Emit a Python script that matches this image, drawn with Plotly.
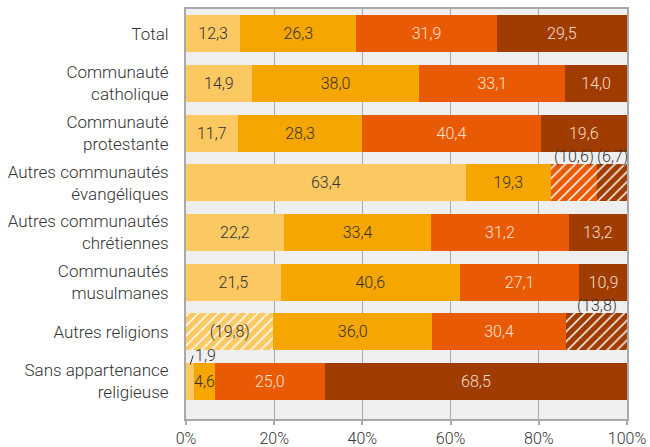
import plotly.graph_objects as go

# Groupes (de haut en bas)
categories = [
    "Total",
    "Communauté<br>catholique",
    "Communauté<br>protestante",
    "Autres communautés<br>évangéliques",
    "Autres communautés<br>chrétiennes",
    "Communautés<br>musulmanes",
    "Autres religions",
    "Sans appartenance<br>religieuse",
]

# Parts en % pour chacune des quatre classes
part_1 = [12.3, 14.9, 11.7, 63.4, 22.2, 21.5, 19.8, 1.9]
part_2 = [26.3, 38.0, 28.3, 19.3, 33.4, 40.6, 36.0, 4.6]
part_3 = [31.9, 33.1, 40.4, 10.6, 31.2, 27.1, 30.4, 25.0]
part_4 = [29.5, 14.0, 19.6, 6.7, 13.2, 10.9, 13.8, 68.5]

# Estimations peu fiables (hachurées, valeur entre parenthèses)
fragile_1 = [False, False, False, False, False, False, True, False]
fragile_2 = [False] * 8
fragile_3 = [False, False, False, True, False, False, False, False]
fragile_4 = [False, False, False, True, False, False, True, False]

series = [
    (part_1, fragile_1, "#FCC862", "#333333"),
    (part_2, fragile_2, "#F5A600", "#333333"),
    (part_3, fragile_3, "#E95A04", "#FBE2D2"),
    (part_4, fragile_4, "#A03C00", "#F3DCCB"),
]

FONT = "Roboto"
GRID = "#A9A9A9"
TXT = "#333333"


def fmt(v, fragile):
    s = f"{v:.1f}".replace(".", ",")
    return f"({s})" if fragile else s


fig = go.Figure()
annotations = []

for k, (vals, fragile, color, txtcol) in enumerate(series):
    inside = []
    left = [sum(series[j][0][i] for j in range(k)) for i in range(len(vals))]
    for i, (v, f) in enumerate(zip(vals, fragile)):
        label = fmt(v, f)
        if f and v < 15:
            # libellé posé au-dessus de la barre
            inside.append("")
            annotations.append(dict(
                x=left[i] + v / 2, y=categories[i], xref="x", yref="y",
                text=label, showarrow=False, yshift=26,
                font=dict(family=FONT, size=16, color=TXT, weight=300),
            ))
        elif v < 3:
            # très petite part : libellé relié par un trait
            inside.append("")
            annotations.append(dict(
                x=left[i] + v / 2, y=categories[i], xref="x", yref="y",
                text=label, showarrow=True, arrowhead=0, arrowwidth=1,
                arrowcolor=TXT, ax=3, ay=-9, xanchor="left",
                yshift=17,
                font=dict(family=FONT, size=16, color=TXT, weight=300),
            ))
        else:
            inside.append(label)

    fig.add_trace(go.Bar(
        y=categories, x=vals, orientation="h",
        name=f"Classe {k + 1}",
        text=inside, textposition="inside", insidetextanchor="middle",
        constraintext="none", textangle=0,
        textfont=dict(family=FONT, size=16, color=txtcol, weight=300),
        marker=dict(
            color=color, line=dict(width=0),
            pattern=dict(
                shape=["/" if f else "" for f in fragile],
                fillmode="replace", bgcolor=color, fgcolor="white",
                size=7, solidity=0.22,
            ),
        ),
        hovertemplate="%{y}: %{x:.1f}%<extra></extra>",
        showlegend=False,
    ))

fig.update_layout(
    barmode="stack",
    bargap=0.26,
    width=650, height=447,
    margin=dict(l=186, r=23, t=9, b=28),
    paper_bgcolor="white",
    plot_bgcolor="#EFEFEF",
    font=dict(family=FONT, size=16, color=TXT, weight=300),
    annotations=annotations,
    xaxis=dict(
        range=[0, 100], tickvals=[0, 20, 40, 60, 80, 100],
        ticktext=["0%", "20%", "40%", "60%", "80%", "100%"],
        showgrid=True, gridcolor=GRID, gridwidth=1,
        showline=True, linecolor=GRID, linewidth=2, mirror=True,
        ticks="outside", ticklen=4, tickcolor=GRID, tickwidth=1.5,
        tickfont=dict(family=FONT, size=16, color=TXT, weight=300),
        zeroline=False, fixedrange=True, automargin=False,
    ),
    yaxis=dict(
        autorange="reversed", categoryorder="array", categoryarray=categories,
        showline=True, linecolor=GRID, linewidth=2, mirror=True,
        ticks="", ticklabelstandoff=12,
        tickfont=dict(family=FONT, size=17, color=TXT, weight=300),
        showgrid=False, fixedrange=True, automargin=False,
    ),
)

fig.write_html("out.html")
